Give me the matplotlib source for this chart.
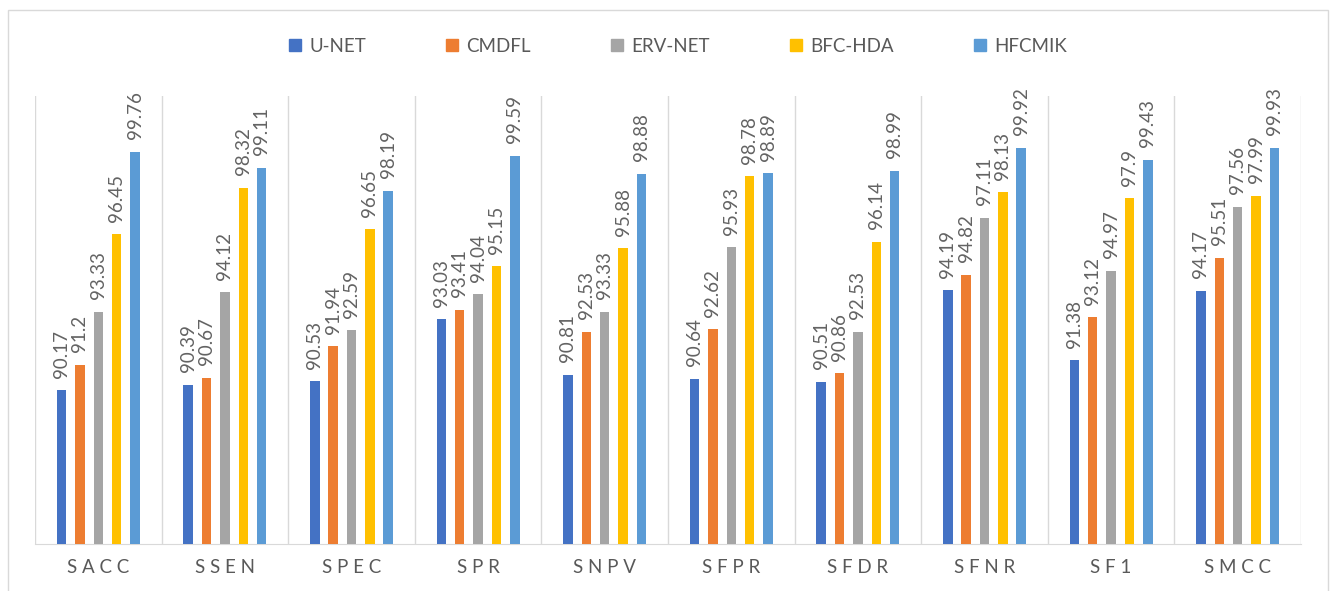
import numpy as np
import matplotlib.pyplot as plt
from matplotlib.patches import Rectangle
from matplotlib.lines import Line2D

plt.rcParams['font.family'] = ['Lato', 'DejaVu Sans']

categories = ['SACC', 'SSEN', 'SPEC', 'SPR', 'SNPV', 'SFPR', 'SFDR', 'SFNR', 'SF1', 'SMCC']
methods = ['U-NET', 'CMDFL', 'ERV-NET', 'BFC-HDA', 'HFCMIK']

unet   = [90.17, 90.39, 90.53, 93.03, 90.81, 90.64, 90.51, 94.19, 91.38, 94.17]
cmdfl  = [91.2, 90.67, 91.94, 93.41, 92.53, 92.62, 90.86, 94.82, 93.12, 95.51]
ervnet = [93.33, 94.12, 92.59, 94.04, 93.33, 95.93, 92.53, 97.11, 94.97, 97.56]
bfchda = [96.45, 98.32, 96.65, 95.15, 95.88, 98.78, 96.14, 98.13, 97.9, 97.99]
hfcmik = [99.76, 99.11, 98.19, 99.59, 98.88, 98.89, 98.99, 99.92, 99.43, 99.93]

series = [unet, cmdfl, ervnet, bfchda, hfcmik]
colors = ['#4472C4', '#ED7D31', '#A5A5A5', '#FFC000', '#5B9BD5']

fig = plt.figure(figsize=(13.3, 5.91), dpi=100)
ax = fig.add_axes([35 / 1330, 1 - 544 / 591, (1301 - 35) / 1330, (544 - 96) / 591])

x = np.arange(len(categories))
step = 0.145
width = 0.075
for i, (vals, c, name) in enumerate(zip(series, colors, methods)):
    pos = x + (i - 2) * step
    ax.bar(pos, vals, width=width, bottom=0, color=c, label=name, zorder=3)
    for px, v in zip(pos, vals):
        ax.annotate(f'{v:g}', (px, v), xytext=(0, 9), textcoords='offset points',
                    rotation=90, ha='center', va='bottom', fontsize=13.5, color='#636363')

ax.set_xlim(-0.5, len(categories) - 0.5)
ax.set_ylim(84, 102)
ax.set_yticks([])

# category separators
for b in np.arange(-0.5, len(categories) + 0.5, 1):
    ax.axvline(b, color='#D9D9D9', lw=1, zorder=1)

ax.set_xticks(x)
ax.set_xticklabels([' '.join(c) for c in categories], fontsize=13.5, color='#595959')
ax.tick_params(axis='x', length=0, pad=11)
for s in ['top', 'left', 'right']:
    ax.spines[s].set_visible(False)
ax.spines['bottom'].set_color('#D9D9D9')

# square legend keys
handles = [Line2D([], [], ls='', marker='s', markersize=9, color=c) for c in colors]
fig.legend(handles, methods, loc='center', bbox_to_anchor=(0.51, 1 - 46 / 591), ncol=5,
           frameon=False, fontsize=13.5, handlelength=0.6, handletextpad=0.45,
           columnspacing=4.3, labelcolor='#595959')

fig.add_artist(Rectangle((8 / 1330, -0.05), (1328 - 8) / 1330, 1.05 - 10 / 591,
                         transform=fig.transFigure, fill=False, edgecolor='#D9D9D9', lw=1))

fig.savefig('out.png', dpi=100)
